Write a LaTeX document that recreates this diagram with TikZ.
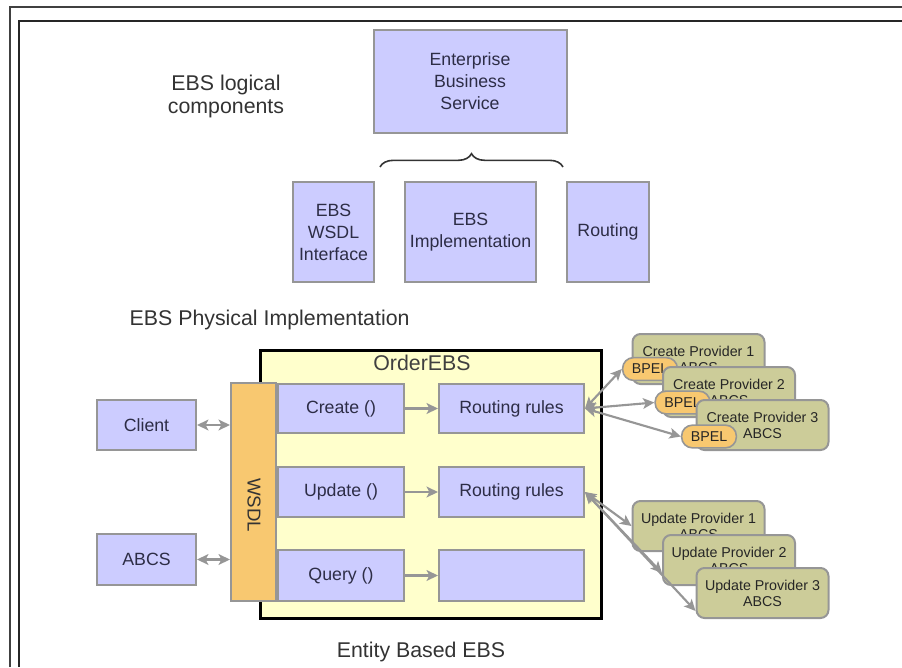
\documentclass[tikz,border=0pt]{standalone}
\usepackage{fontspec}
\setmainfont{Liberation Sans}
\usetikzlibrary{arrows.meta,decorations.pathreplacing}
\definecolor{boxblue}{RGB}{204,204,255}
\definecolor{boxline}{RGB}{150,150,150}
\definecolor{ebsyellow}{RGB}{255,255,204}
\definecolor{wsdlorange}{RGB}{248,200,112}
\definecolor{provkhaki}{RGB}{204,204,153}
\definecolor{txtgrey}{RGB}{45,45,70}
\tikzset{
  comp/.style={draw=boxline, fill=boxblue, line width=1.5pt, text=txtgrey, align=center,
    inner sep=0pt, font=\fontsize{13.3}{16.5}\selectfont},
  prov/.style={draw=boxline, fill=provkhaki, line width=1.5pt, rounded corners=6pt,
    text=black!85, align=center, inner sep=0pt, minimum width=99pt, minimum height=37.5pt,
    font=\fontsize{10.7}{12}\selectfont},
  bpel/.style={draw=boxline, fill=wsdlorange, line width=1.2pt, rounded corners=8pt,
    minimum width=41pt, minimum height=17pt, inner sep=0pt, text=black!85,
    font=\fontsize{10.7}{12}\selectfont},
  flow/.style={draw=boxline, line width=1.6pt, -{Stealth[length=8.5pt,width=8pt,inset=2pt]}},
  twoway/.style={draw=boxline, line width=1.6pt,
    {Stealth[length=8.5pt,width=8pt,inset=2pt]}-{Stealth[length=8.5pt,width=8pt,inset=2pt]}},
  label/.style={text=black!80, align=center, font=\fontsize{16}{17.25}\selectfont}
}
\begin{document}
\begin{tikzpicture}[x=0.75pt,y=-0.75pt]
\useasboundingbox (0,0) rectangle (902,667);
% frame
\draw[line width=1pt, black!75] (10,667)--(10,7)--(902,7);
\draw[line width=1.5pt, black!85] (19,667)--(19,21)--(902,21);

% logical components
\node[label] (logical) at (226,96.5) {EBS logical\\components};
\node[comp, minimum width=144.75pt, minimum height=77.25pt] (ebs) at (470,81.5) {Enterprise\\Business\\Service};
\draw[decorate, decoration={brace, amplitude=10pt}, line width=1.2pt, black!80] (380,167)--(563,167);
\node[comp, minimum width=60.75pt, minimum height=75pt] (wsdlif) at (333.5,232) {EBS\\WSDL\\Interface};
\node[comp, minimum width=98.25pt, minimum height=75pt] (impl) at (470.5,232) {EBS\\Implementation};
\node[comp, minimum width=61.5pt, minimum height=75pt] (rout) at (608,232) {Routing};

% physical implementation
\node[label, anchor=west] (physical) at (125,320) {EBS Physical Implementation};
\node[draw=black, fill=ebsyellow, line width=2.25pt, minimum width=255.75pt, minimum height=201pt] (order) at (430.5,484) {};
\node[label, text=black!75] (ordertitle) at (422,363) {OrderEBS};
\node[draw=boxline, fill=wsdlorange, line width=1.5pt, minimum width=33.75pt, minimum height=163.5pt] (wsdl) at (253.5,492) {};
\node[rotate=-90, text=black!80, font=\fontsize{14}{16}\selectfont] (wsdltext) at (254,505) {WSDL};

\node[comp, minimum width=94.5pt, minimum height=37pt] (create) at (341,408.5) {Create ()};
\node[comp, minimum width=94.5pt, minimum height=37.5pt] (update) at (341,492) {Update ()};
\node[comp, minimum width=94.5pt, minimum height=38pt] (query) at (341,575.5) {Query ()};
\node[comp, minimum width=108.75pt, minimum height=37pt] (rr1) at (511.5,408.5) {Routing rules};
\node[comp, minimum width=108.75pt, minimum height=37.5pt] (rr2) at (511.5,492) {Routing rules};
\node[comp, minimum width=108.75pt, minimum height=38pt] (rr3) at (511.5,575.5) {};

\node[comp, minimum width=74.25pt, minimum height=37.5pt] (client) at (146.5,425) {Client};
\node[comp, minimum width=74.25pt, minimum height=38pt] (abcs) at (146.5,559.5) {ABCS};

\draw[twoway] (client.east) -- (client.east -| wsdl.west);
\draw[twoway] (abcs.east) -- (abcs.east -| wsdl.west);
\draw[flow] (create) -- (rr1);
\draw[flow] (update) -- (rr2);
\draw[flow] (query) -- (rr3);

% providers
\node[prov] (cp1) at (698.5,359) {Create Provider 1\\ABCS};
\node[bpel] (cb1) at (650,369) {BPEL};
\node[prov] (cp2) at (729,392) {Create Provider 2\\ABCS};
\node[bpel] (cb2) at (682.5,402.5) {BPEL};
\node[prov] (cp3) at (762.5,425) {Create Provider 3\\ABCS};
\node[bpel] (cb3) at (709,436.5) {BPEL};

\node[prov] (up1) at (698.5,526) {Update Provider 1\\ABCS};
\node[prov] (up2) at (729,560) {Update Provider 2\\ABCS};
\node[prov] (up3) at (762.5,593) {Update Provider 3\\ABCS};

\draw[twoway] (rr1.east) -- (cb1.west);
\draw[twoway] (rr1.east) -- (cb2.west);
\draw[twoway] (rr1.east) -- (cb3.west);
\draw[twoway] (rr2.east) -- (up1.west);
\draw[twoway] (rr2.east) -- (up2.191);
\draw[twoway] (rr2.east) -- (up3.195);

\node[label] (entity) at (421,652) {Entity Based EBS};
\end{tikzpicture}
\end{document}
